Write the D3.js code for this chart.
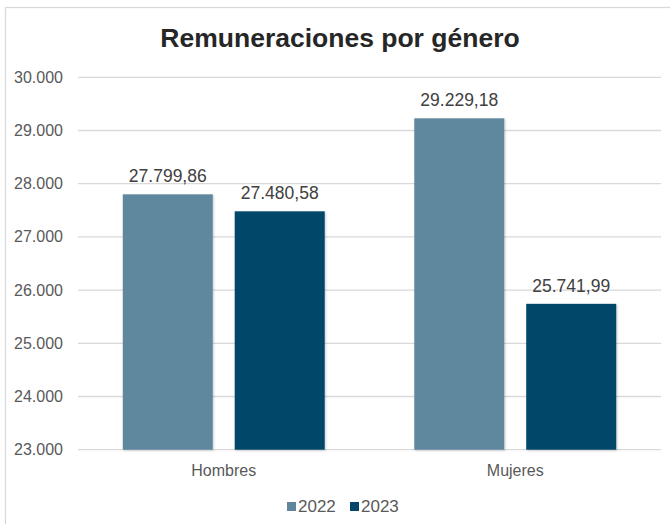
<!DOCTYPE html>
<html lang="es">
<head>
<meta charset="UTF-8">
<title>Remuneraciones por género</title>
<script src="https://d3js.org/d3.v7.min.js"></script>
<style>
  body { margin: 0; background: #fff; font-family: 'Liberation Sans', Arial, sans-serif; }
  svg { display: block; }
  .grid line { stroke: #d9d9d9; stroke-width: 1.3; }
  .tick-label { fill: #595959; font-size: 16px; }
  .legend-label { fill: #595959; font-size: 17px; }
  .value-label { fill: #404040; font-size: 17.5px; }
  .title { fill: #262626; font-size: 26.5px; font-weight: bold; }
</style>
</head>
<body>
<svg width="670" height="524"></svg>
<script>
// datos
const categorias = ["Hombres", "Mujeres"];
const anios = ["2022", "2023"];
const valores2022 = [27799.86, 29229.18];
const valores2023 = [27480.58, 25741.99];
const ticksY = [23000, 24000, 25000, 26000, 27000, 28000, 29000, 30000];
const colores = ["#5e879e", "#06466a"];

const series = [valores2022, valores2023];

const es = d3.formatLocale({ decimal: ",", thousands: ".", grouping: [3], currency: ["", "€"] });
const fmtTick = es.format(",.0f");
const fmtVal = es.format(",.2f");

const svg = d3.select("svg");

// borde del área del gráfico
svg.append("rect")
  .attr("x", 5.5).attr("y", 7.5)
  .attr("width", 700).attr("height", 560)
  .attr("fill", "none").attr("stroke", "#d9d9d9").attr("stroke-width", 1.3);

const defs = svg.append("defs");
defs.append("filter").attr("id", "sombra")
  .attr("x", "-10%").attr("y", "-10%").attr("width", "130%").attr("height", "130%")
  .append("feDropShadow")
  .attr("dx", 1).attr("dy", 1).attr("stdDeviation", 1.2)
  .attr("flood-color", "#000").attr("flood-opacity", 0.2);

svg.append("text").attr("class", "title")
  .attr("x", 340).attr("y", 47)
  .attr("text-anchor", "middle")
  .text("Remuneraciones por género");

const plotLeft = 78, plotRight = 661, plotTop = 77.3, plotBottom = 449.7;

const y = d3.scaleLinear().domain([23000, 30000]).range([plotBottom, plotTop]);
const x0 = d3.scaleBand().domain(categorias).range([plotLeft, plotRight]).padding(0);
const x1 = d3.scaleBand().domain(anios).range([0, x0.bandwidth()])
  .paddingInner(0.196).paddingOuter(0.4);

// rejilla
const grid = svg.append("g").attr("class", "grid");
grid.selectAll("line").data(ticksY).enter().append("line")
  .attr("x1", plotLeft).attr("x2", plotRight)
  .attr("y1", d => y(d)).attr("y2", d => y(d));

// etiquetas eje Y
svg.append("g").selectAll("text").data(ticksY).enter().append("text")
  .attr("class", "tick-label")
  .attr("x", 63).attr("y", d => y(d) + 5.5)
  .attr("text-anchor", "end")
  .text(d => fmtTick(d));

// barras
const grupos = svg.append("g").selectAll("g").data(categorias).enter().append("g")
  .attr("transform", d => `translate(${x0(d)},0)`);

const filas = (c, i) => anios.map((a, j) => ({ anio: a, valor: series[j][i], j }));

grupos.selectAll("rect")
  .data(filas)
  .enter().append("rect")
  .attr("x", d => x1(d.anio))
  .attr("width", x1.bandwidth())
  .attr("y", d => y(d.valor))
  .attr("height", d => y(23000) - y(d.valor))
  .attr("fill", d => colores[d.j])
  .attr("filter", "url(#sombra)");

grupos.selectAll("text.value-label")
  .data(filas)
  .enter().append("text")
  .attr("class", "value-label")
  .attr("x", d => x1(d.anio) + x1.bandwidth() / 2)
  .attr("y", d => y(d.valor) - 12)
  .attr("text-anchor", "middle")
  .text(d => fmtVal(d.valor));

// etiquetas de categoría
svg.append("g").selectAll("text").data(categorias).enter().append("text")
  .attr("class", "tick-label")
  .attr("x", d => x0(d) + x0.bandwidth() / 2)
  .attr("y", 476)
  .attr("text-anchor", "middle")
  .text(d => d);

// leyenda
const leyenda = svg.append("g").selectAll("g").data(anios).enter().append("g")
  .attr("transform", (d, i) => `translate(${287 + i * 63},0)`);
leyenda.append("rect")
  .attr("x", 0).attr("y", 502).attr("width", 9).attr("height", 9)
  .attr("fill", (d, i) => colores[i]);
leyenda.append("text")
  .attr("class", "legend-label")
  .attr("x", 11).attr("y", 512)
  .text(d => d);
</script>
</body>
</html>
